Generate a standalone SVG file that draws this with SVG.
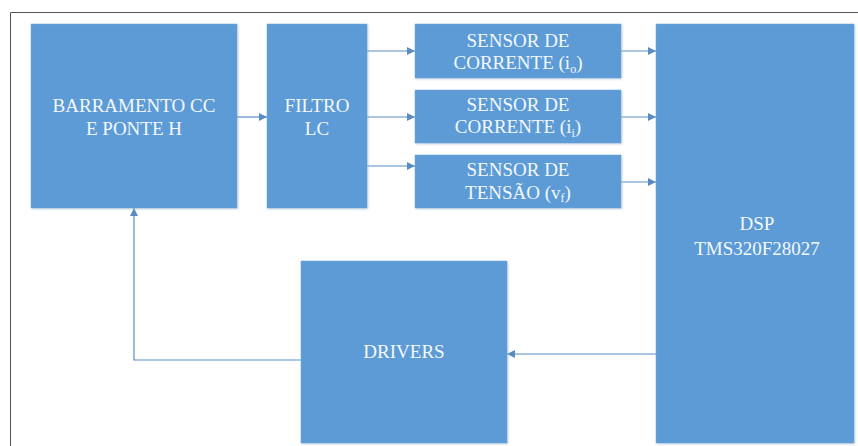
<svg xmlns="http://www.w3.org/2000/svg" width="858" height="446" viewBox="0 0 858 446">
<defs>
<style>
.box{fill:#5B9BD5;stroke:#6FA6D9;stroke-width:0.5}
.t{font-family:"Times New Roman",Times,Tinos,"Liberation Serif","Noto Serif","DejaVu Serif",serif;font-size:19px;fill:#F4F8FC;text-anchor:middle}
.sub{font-size:12px}
.c{fill:none;stroke:#5A8CC4;stroke-width:1.2}
</style>
<marker id="ah" viewBox="0 0 10 10" refX="10" refY="5" markerWidth="9" markerHeight="8" markerUnits="userSpaceOnUse" orient="auto">
<path d="M0,0 L10,5 L0,10 z" fill="#5A8CC4"/>
</marker>
<filter id="sh" x="-5%" y="-5%" width="110%" height="110%">
<feDropShadow dx="1" dy="1" stdDeviation="1" flood-color="#9FB5CC" flood-opacity="0.6"/>
</filter>
</defs>
<rect x="0" y="0" width="858" height="446" fill="#FFFFFF"/>
<path d="M10.5,460 V12.5 H870" fill="none" stroke="#555" stroke-width="1"/>

<g id="connectors">
<line class="c" x1="237" y1="117" x2="267" y2="117" marker-end="url(#ah)"/>
<line class="c" x1="367" y1="51" x2="415" y2="51" marker-end="url(#ah)"/>
<line class="c" x1="367" y1="117" x2="415" y2="117" marker-end="url(#ah)"/>
<line class="c" x1="367" y1="166" x2="415" y2="166" marker-end="url(#ah)"/>
<line class="c" x1="621" y1="51" x2="656" y2="51" marker-end="url(#ah)"/>
<line class="c" x1="621" y1="117" x2="656" y2="117" marker-end="url(#ah)"/>
<line class="c" x1="621" y1="182" x2="656" y2="182" marker-end="url(#ah)"/>
<line class="c" x1="656" y1="354" x2="507" y2="354" marker-end="url(#ah)"/>
<polyline class="c" points="301,360 134,360 134,208" marker-end="url(#ah)"/>
</g>

<g id="barramento">
<rect class="box" filter="url(#sh)" x="31" y="24" width="206" height="184"/>
<text class="t" x="134" y="112">BARRAMENTO CC</text>
<text class="t" x="134" y="135">E PONTE H</text>
</g>

<g id="filtro">
<rect class="box" filter="url(#sh)" x="267" y="24" width="100" height="184"/>
<text class="t" x="317" y="112">FILTRO</text>
<text class="t" x="317" y="135">LC</text>
</g>

<g id="sensor-io">
<rect class="box" filter="url(#sh)" x="415" y="24" width="206" height="54"/>
<text class="t" x="518" y="47">SENSOR DE</text>
<text class="t" x="518" y="69">CORRENTE (i<tspan class="sub" dy="4">o</tspan><tspan dy="-4">)</tspan></text>
</g>

<g id="sensor-ii">
<rect class="box" filter="url(#sh)" x="415" y="90" width="206" height="53"/>
<text class="t" x="518" y="111">SENSOR DE</text>
<text class="t" x="518" y="133">CORRENTE (i<tspan class="sub" dy="4">i</tspan><tspan dy="-4">)</tspan></text>
</g>

<g id="sensor-vf">
<rect class="box" filter="url(#sh)" x="415" y="155" width="206" height="53"/>
<text class="t" x="518" y="176">SENSOR DE</text>
<text class="t" x="518" y="199">TENSÃO (v<tspan class="sub" dy="3">f</tspan><tspan dy="-3">)</tspan></text>
</g>

<g id="dsp">
<rect class="box" filter="url(#sh)" x="656" y="24" width="198" height="419"/>
<text class="t" x="757" y="230">DSP</text>
<text class="t" x="757" y="255">TMS320F28027</text>
</g>

<g id="drivers">
<rect class="box" filter="url(#sh)" x="301" y="261" width="206" height="182"/>
<text class="t" x="404" y="358">DRIVERS</text>
</g>
</svg>
